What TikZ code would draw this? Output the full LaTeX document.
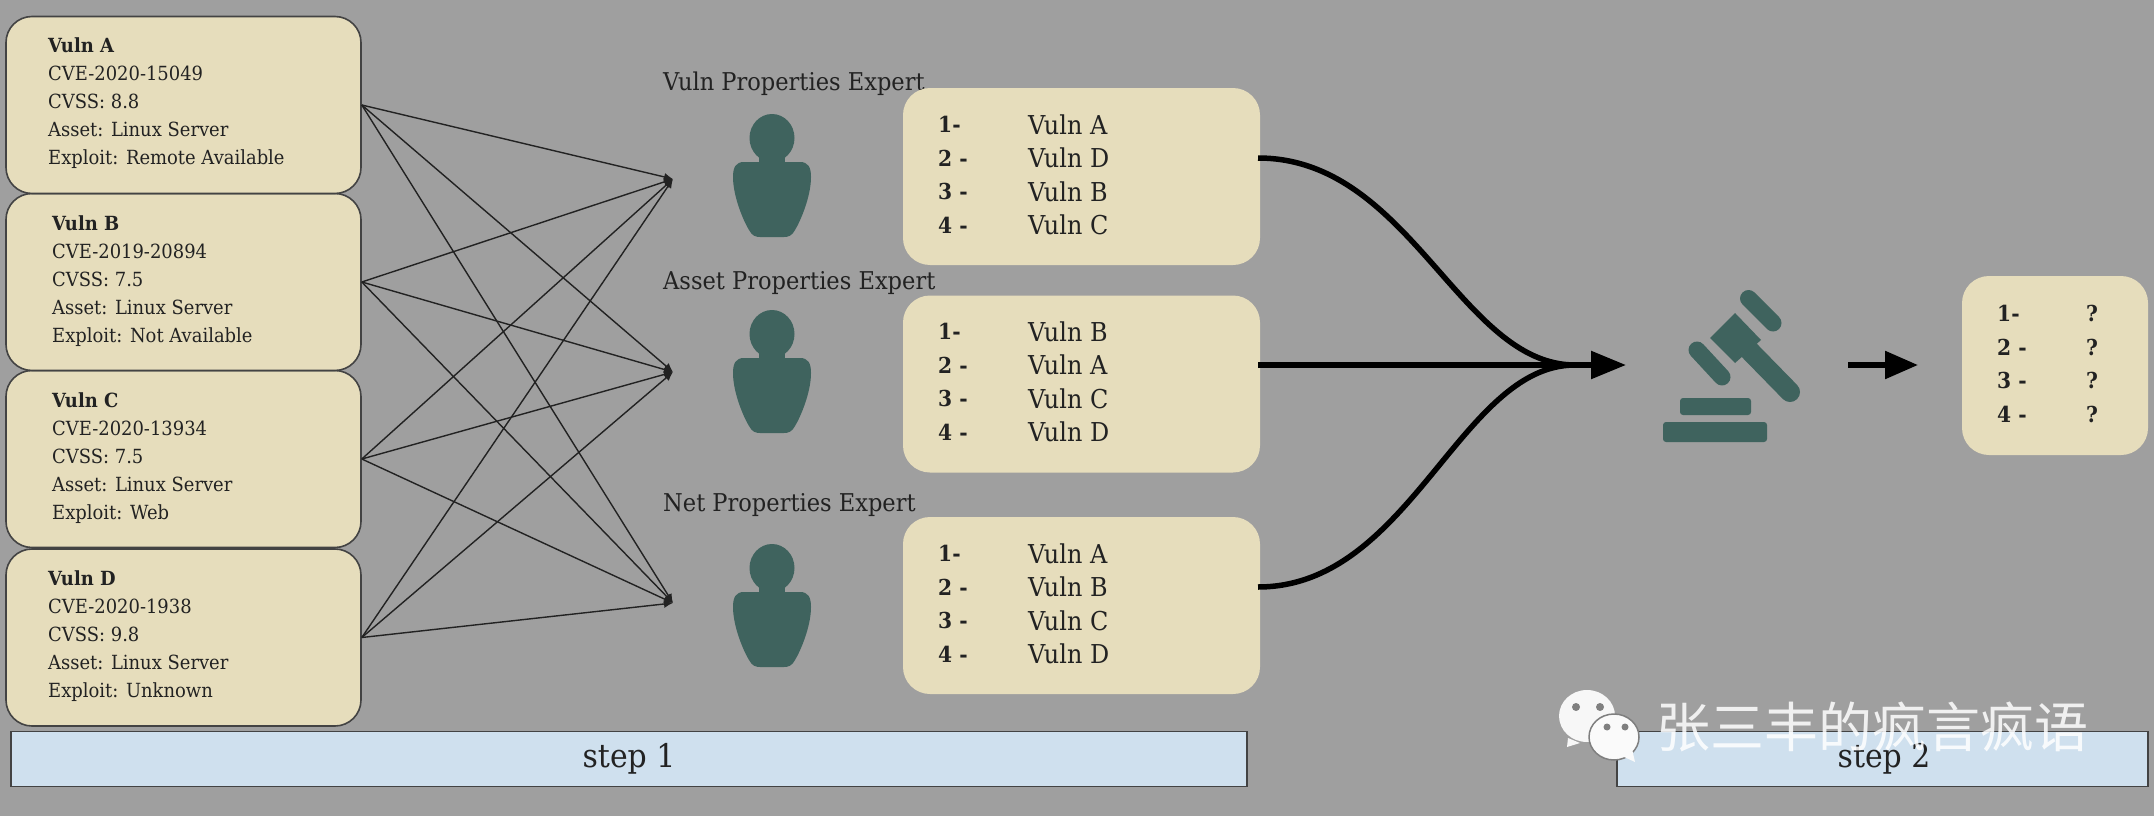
\documentclass[tikz,border=0pt]{standalone}
\usepackage{fontspec}
\setmainfont{DejaVu Serif}[FakeStretch=0.92]
\newfontfamily\cjk{Noto Sans CJK SC}
\usetikzlibrary{arrows.meta}
\definecolor{bgc}{HTML}{9F9F9F}
\definecolor{cream}{HTML}{E6DDBC}
\definecolor{teal}{HTML}{3F635E}
\definecolor{stepc}{HTML}{CFE0EE}
\definecolor{ink}{HTML}{222222}
\tikzset{
  vulnbox/.style={draw=ink!85,line width=1.6pt,fill=cream,rounded corners=26pt,minimum width=355pt,minimum height=177pt,inner sep=0pt},
  rankbox/.style={fill=cream,rounded corners=27pt,minimum width=357pt,minimum height=177pt,inner sep=0pt},
  resbox/.style={fill=cream,rounded corners=27pt,minimum width=186pt,minimum height=179pt,inner sep=0pt},
  stepbox/.style={draw=ink!85,line width=1.8pt,fill=stepc,minimum height=55pt,inner sep=0pt,font=\fontsize{32.5}{34}\selectfont,text=ink},
  vulntext/.style={anchor=west,align=left,inner sep=0pt,text=ink,font=\fontsize{19.5}{28}\selectfont},
  exptext/.style={anchor=west,inner sep=0pt,text=ink,font=\fontsize{24.5}{28}\selectfont},
  ranknum/.style={anchor=west,align=left,inner sep=0pt,text=ink,font=\fontsize{22}{33.5}\selectfont\bfseries},
  ranktext/.style={anchor=west,align=left,inner sep=0pt,text=ink,font=\fontsize{26}{33.5}\selectfont},
  fan/.style={draw=ink,line width=1.4pt,-{Latex[length=9pt,width=8pt]}},
  merge/.style={draw=black,line width=5.5pt},
  person/.pic={
    \fill[teal] (0,1) ellipse (22.5pt and 24pt);
    \fill[teal] (-13,15) rectangle (13,30);
    \fill[teal] (-28,25) .. controls (-36,25) and (-39,30) .. (-39,40)
      .. controls (-39,60) and (-28,85) .. (-23,93)
      .. controls (-20,99) and (-16,100) .. (-12,100) -- (12,100)
      .. controls (16,100) and (20,99) .. (23,93)
      .. controls (28,85) and (39,60) .. (39,40)
      .. controls (39,30) and (36,25) .. (28,25) -- cycle;
  }
}
\begin{document}
\begin{tikzpicture}[x=1pt,y=-1pt]
\useasboundingbox (0,0) rectangle (2154,816);
\fill[bgc] (0,0) rectangle (2154,816);
% vuln boxes
\node[vulnbox] (D) at (183.5,637.5) {};
\node[vulnbox] (C) at (183.5,459) {};
\node[vulnbox] (B) at (183.5,282) {};
\node[vulnbox] (A) at (183.5,105) {};
\node[vulntext] (tA) at (48,103) {\textbf{Vuln A}\\CVE-2020-15049\\CVSS: 8.8\\Asset: Linux Server\\Exploit: Remote Available};
\node[vulntext] (tB) at (52,281) {\textbf{Vuln B}\\CVE-2019-20894\\CVSS: 7.5\\Asset: Linux Server\\Exploit: Not Available};
\node[vulntext] (tC) at (52,458.5) {\textbf{Vuln C}\\CVE-2020-13934\\CVSS: 7.5\\Asset: Linux Server\\Exploit: Web};
\node[vulntext] (tD) at (48,636.5) {\textbf{Vuln D}\\CVE-2020-1938\\CVSS: 9.8\\Asset: Linux Server\\Exploit: Unknown};
% fan targets
\coordinate (T1) at (673,179);
\coordinate (T2) at (673,372);
\coordinate (T3) at (673,603);
\foreach \s in {A,B,C,D}{
  \foreach \t in {T1,T2,T3}{
    \draw[fan] (\s.east) -- (\t);
  }
}
% experts
\node[exptext] (e1) at (663,84) {Vuln Properties Expert};
\node[exptext] (e2) at (663,283) {Asset Properties Expert};
\node[exptext] (e3) at (663,505) {Net Properties Expert};
\pic at (772,137) {person};
\pic at (772,333) {person};
\pic at (772,567) {person};
% rank boxes
\node[rankbox] (r1) at (1081.5,176.5) {};
\node[rankbox] (r2) at (1081.5,384) {};
\node[rankbox] (r3) at (1081.5,605.5) {};
\node[ranknum] (n1) at (938,175) {1-\\2 -\\3 -\\4 -};
\node[ranktext] (v1) at (1028,175) {Vuln A\\Vuln D\\Vuln B\\Vuln C};
\node[ranknum] (n2) at (938,382) {1-\\2 -\\3 -\\4 -};
\node[ranktext] (v2) at (1028,382) {Vuln B\\Vuln A\\Vuln C\\Vuln D};
\node[ranknum] (n3) at (938,604) {1-\\2 -\\3 -\\4 -};
\node[ranktext] (v3) at (1028,604) {Vuln A\\Vuln B\\Vuln C\\Vuln D};
% merge curves
\coordinate (s1) at (1258,158);
\coordinate (s2) at (1258,365);
\coordinate (s3) at (1258,587);
\coordinate (m) at (1575,365);
\coordinate (tip) at (1626,365);
\draw[merge] (s1) .. controls (1410,158) and (1460,365) .. (m);
\draw[merge] (s3) .. controls (1410,587) and (1460,365) .. (m);
\draw[merge,-{Triangle[length=35pt,width=27pt]}] (s2) -- (tip);
% gavel
\begin{scope}[teal]
\fill[rounded corners=3pt] (1663,422) rectangle (1767,442);
\fill[rounded corners=3pt] (1680,398) rectangle (1751,415);
\draw[line width=17pt,line cap=round] (1748.5,298.5) -- (1773,323);
\draw[line width=17pt,line cap=round] (1697,350) -- (1722,377);
\fill (1735,313) -- (1761,340) -- (1735,363) -- (1710,338) -- cycle;
\draw[line width=20pt,line cap=round] (1745,346) -- (1790,392);
\end{scope}
\coordinate (a2s) at (1848,365);
\coordinate (a2e) at (1918,365);
\draw[merge,-{Triangle[length=33pt,width=27pt]}] (a2s) -- (a2e);
% result
\node[resbox] (res) at (2055,365.5) {};
\node[ranknum] (n4) at (1997,364) {1-\\2 -\\3 -\\4 -};
\node[ranknum] (q4) at (2086,364) {?\\?\\?\\?};
% steps
\node[stepbox,minimum width=1236pt] (st1) at (629,759) {step 1};
\node[stepbox,minimum width=531pt] (st2) at (1882.5,759) {\hspace*{3pt}step 2};
% watermark
\fill[white!94!gray] (1587,716) ellipse (28pt and 26pt);
\fill[white!94!gray] (1568,738) -- (1567,747) -- (1580,743) -- cycle;
\fill[gray] (1576,707) circle (4pt) (1600,707) circle (4pt);
\fill[white!96!gray,draw=bgc!80!black,line width=1.5pt] (1614,737) ellipse (25pt and 23pt);
\fill[white!96!gray] (1622,756) -- (1635,762) -- (1632,749) -- cycle;
\fill[gray] (1607,727) circle (3.5pt) (1625,727) circle (3.5pt);
\node[inner sep=0pt,anchor=west,text=white,text opacity=.85,font={\cjk\fontsize{54}{58}\selectfont}] (wm) at (1656,727) {张三丰的疯言疯语};
\end{tikzpicture}
\end{document}
